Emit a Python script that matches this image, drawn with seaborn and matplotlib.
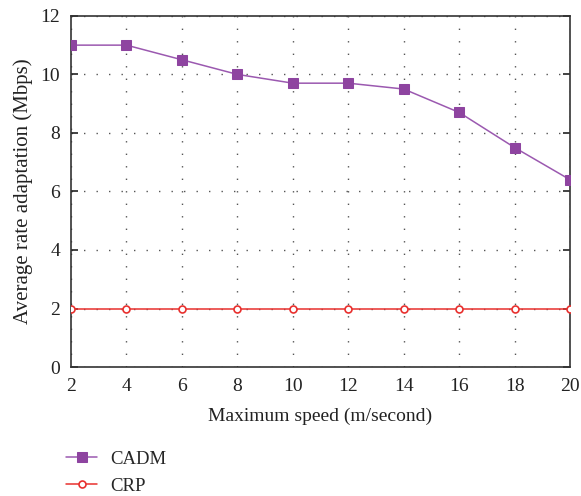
import matplotlib
matplotlib.use("Agg")
import matplotlib.pyplot as plt
import seaborn as sns
import pandas as pd

speeds = [2, 4, 6, 8, 10, 12, 14, 16, 18, 20]
cadm = [11.0, 11.0, 10.5, 10.0, 9.7, 9.7, 9.5, 8.7, 7.5, 6.4]
crp = [1.97, 1.97, 1.97, 1.97, 1.97, 1.97, 1.97, 1.97, 1.97, 1.97]
y_ticks = [0, 2, 4, 6, 8, 10, 12]

sns.set_theme(style="white")
plt.rcParams["font.family"] = ["Liberation Serif", "DejaVu Serif"]
plt.rcParams["mathtext.fontset"] = "stix"

fig = plt.figure(figsize=(5.81, 4.96), dpi=100)
ax = fig.add_axes([0.1222, 0.26, 0.859, 0.708])

df_cadm = pd.DataFrame({"speed": speeds, "rate": cadm})
df_crp = pd.DataFrame({"speed": speeds, "rate": crp})

sns.lineplot(data=df_cadm, x="speed", y="rate", ax=ax, color="#9b59b0",
             linewidth=1.1, marker="s", markersize=7.5,
             markerfacecolor="#8e44a0", markeredgecolor="#8e44a0",
             label="CADM", zorder=3)
sns.lineplot(data=df_crp, x="speed", y="rate", ax=ax, color="#e8302e",
             linewidth=1.1, marker="o", markersize=5,
             markerfacecolor="white", markeredgecolor="#e8302e",
             markeredgewidth=1.2, label="CRP", zorder=3)

ax.set_xlim(2, 20)
ax.set_ylim(0, 12)
ax.set_xticks(speeds)
ax.set_yticks(y_ticks)
ax.grid(True, color="#555555", linestyle=(0, (1, 8)), linewidth=1.0)
for s in ax.spines.values():
    s.set_color("#333333")
    s.set_linewidth(1.2)
ax.tick_params(axis="y", direction="in", length=5, width=1.2, right=True,
               left=True, labelsize=14, colors="#222222", pad=8)
ax.tick_params(axis="x", direction="in", length=0, labelsize=14,
               colors="#222222", pad=8)
ax.set_xlabel("Maximum speed (m/second)", fontsize=14, color="#222222",
              labelpad=9)
ax.set_ylabel("Average rate adaptation (Mbps)", fontsize=15, color="#222222",
              labelpad=5)

handles, labels = ax.get_legend_handles_labels()
ax.legend_.remove()
fig.legend(handles, labels, loc="upper left", bbox_to_anchor=(0.1, 0.107),
           frameon=False, fontsize=13.5, handlelength=1.7, labelspacing=0.55,
           handletextpad=0.7, borderaxespad=0)

fig.savefig("out.png", dpi=100)
